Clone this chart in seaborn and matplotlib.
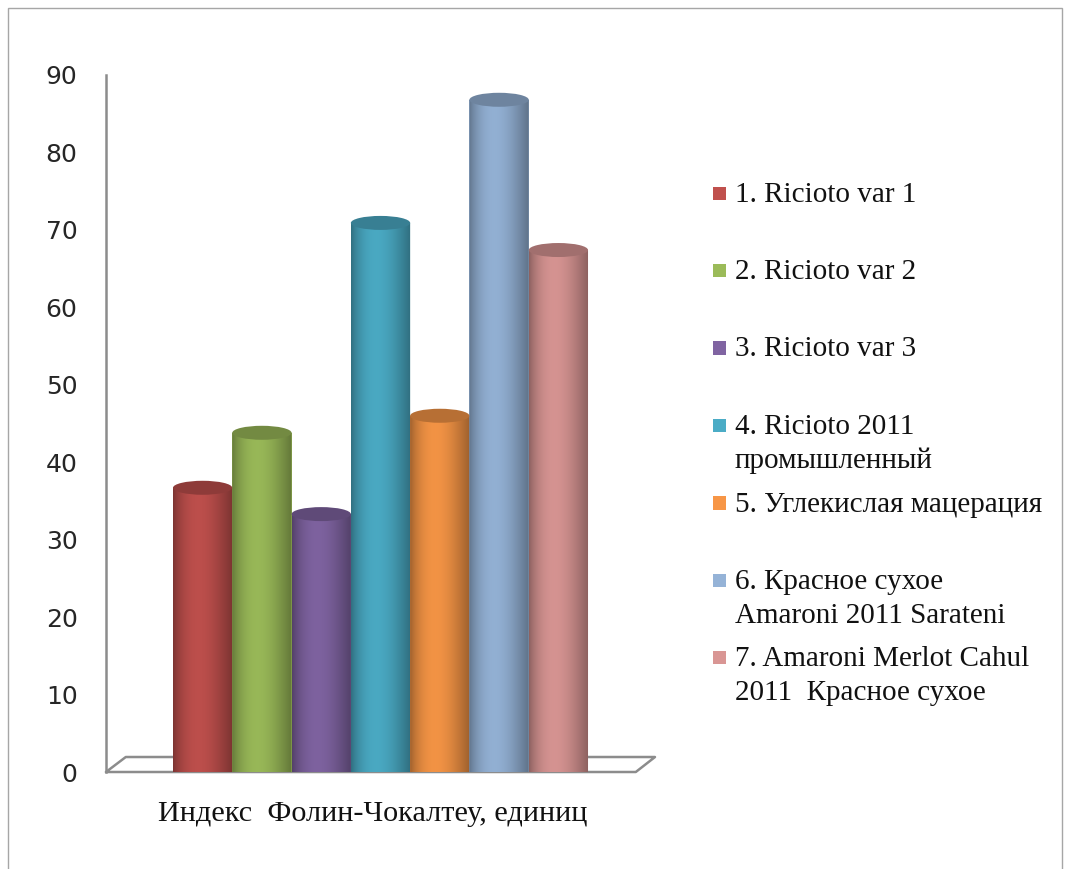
import numpy as np
import pandas as pd
import matplotlib
matplotlib.use("Agg")
import matplotlib.pyplot as plt
import seaborn as sns
from matplotlib.patches import Rectangle, Ellipse, PathPatch
from matplotlib.path import Path
from matplotlib.legend_handler import HandlerPatch
from matplotlib.transforms import ScaledTranslation
import matplotlib.colors as mcolors

# ---------------- data ----------------
category = ["Индекс  Фолин-Чокалтеу, единиц"]
series = [
    "1. Ricioto var 1",
    "2. Ricioto var 2",
    "3. Ricioto var 3",
    "4. Ricioto 2011\nпромышленный",
    "5. Углекислая мацерация",
    "6. Красное сухое\nAmaroni 2011 Sarateni",
    "7. Amaroni Merlot Cahul\n2011  Красное сухое",
]
values = [36.7, 43.8, 33.3, 70.9, 46.0, 86.8, 67.4]
colors = ["#C0504D", "#9BBB59", "#8064A2", "#4BACC6", "#F79646", "#95B3D7", "#D99694"]
yticks = [0, 10, 20, 30, 40, 50, 60, 70, 80, 90]

df = pd.DataFrame({
    "category": category * len(series),
    "series": series,
    "value": values,
})

# ---------------- style ----------------
sns.set_style("white")
plt.rcParams["font.family"] = ["Liberation Serif", "DejaVu Serif"]

W, H = 1069, 869
fig = plt.figure(figsize=(W / 100, H / 100), dpi=100)
ax = fig.add_axes([106 / W, 1 - 772 / H, 549 / W, 697 / H])

sns.barplot(data=df, x="category", y="value", hue="series", hue_order=series,
            palette=colors, width=0.756, gap=0, saturation=1, ax=ax,
            legend=True, linewidth=0, edgecolor="none", zorder=2)

ax.set_xlim(-0.5, 0.5)
ax.set_ylim(0, 90)

# ---------------- cylinder shading ----------------
px_per_unit = 697 / 90.0
b = 7.0 / px_per_unit  # half height of the ellipses in data units
tt = np.linspace(0, 1, 200)
shade = 0.64 + 0.34 * np.sin(np.pi * np.clip(tt, 0, 1) ** 0.8)

for cont, col in zip(ax.containers, colors):
    base = np.array(mcolors.to_rgb(col))
    for bar in cont:
        x0 = bar.get_x(); w = bar.get_width(); h = bar.get_height()
        xc = x0 + w / 2
        t = np.linspace(np.pi, 2 * np.pi, 80)
        bottom = np.column_stack([xc + w / 2 * np.cos(t), b * np.sin(t)])
        verts = [(x0, h)] + bottom.tolist() + [(x0 + w, h), (x0, h)]
        codes = [Path.MOVETO] + [Path.LINETO] * (len(verts) - 2) + [Path.CLOSEPOLY]
        clip = PathPatch(Path(verts, codes), transform=ax.transData,
                         facecolor="none", edgecolor="none")
        grad = np.clip(base[None, :] * shade[:, None], 0, 1)[None, :, :]
        im = ax.imshow(grad, extent=[x0, x0 + w, -b, h], aspect="auto",
                       interpolation="bilinear", zorder=3)
        im.set_clip_path(clip)
        im.set_clip_box(None)
        top = Ellipse((xc, h), w, 2 * b, facecolor=np.clip(base * 0.74, 0, 1),
                      edgecolor="none", zorder=4, clip_on=False)
        ax.add_patch(top)

ax.set_xlim(-0.5, 0.5)
ax.set_ylim(0, 90)

# ---------------- axes decoration ----------------
for s in ["top", "right", "bottom"]:
    ax.spines[s].set_visible(False)
ax.spines["left"].set_color("#8C8C8C")
ax.spines["left"].set_linewidth(1.8)

ax.set_yticks(yticks)
ax.set_yticklabels([str(v) for v in yticks], family="DejaVu Sans", fontsize=18,
                   color="#262626")
ax.tick_params(axis="y", direction="out", length=6.5, width=1.5, color="#8C8C8C", pad=14)
ax.tick_params(axis="x", length=0, pad=21, labelsize=21.8, labelcolor="#111111")
for lab in ax.get_xticklabels():
    lab.set_transform(lab.get_transform() + ScaledTranslation(-0.08, 0, fig.dpi_scale_trans))
ax.set_xlabel("")
ax.set_ylabel("")

# 3D floor
fx = [0, 0.965, 1.0, 0.036, 0]
fy = [0, 0, 0.0215, 0.0215, 0]
ax.plot(fx, fy, transform=ax.transAxes, color="#8C8C8C", lw=1.8, clip_on=False, zorder=1)

# ---------------- legend ----------------
leg = ax.get_legend()
handles = leg.legend_handles
labels = [t.get_text() for t in leg.get_texts()]
leg.remove()
labels2 = [l if "\n" in l else l + "\n " for l in labels]

FS = 21
LS = 1.4


class FirstLineHandler(HandlerPatch):
    def create_artists(self, legend, orig_handle, xdescent, ydescent, width,
                       height, fontsize, trans):
        size = 9.6
        shift = LS * 0.69 * fontsize / 2 + 3.0
        p = Rectangle((-xdescent, -ydescent + height / 2 - size / 2 + shift),
                      size, size, facecolor=orig_handle.get_facecolor(),
                      edgecolor="none", transform=trans)
        return [p]


fig.legend(handles, labels2, loc="upper left", bbox_to_anchor=(713 / W, 1 - 182 / H),
           frameon=False, fontsize=FS, handlelength=0.46, handletextpad=0.28,
           labelspacing=0.59, borderpad=0, borderaxespad=0,
           handler_map={Rectangle: FirstLineHandler()},
           prop={"family": ["Liberation Serif", "DejaVu Serif"], "size": FS})
for t in fig.legends[0].get_texts():
    t.set_linespacing(LS)
    t.set_color("#111111")

# outer chart border
fig.patches.append(Rectangle((8 / W, -0.01), (1062 - 8) / W, 1 - 8 / H + 0.01,
                             transform=fig.transFigure, fill=False,
                             edgecolor="#A6A6A6", lw=1.0))

fig.savefig("out.png", dpi=100)
